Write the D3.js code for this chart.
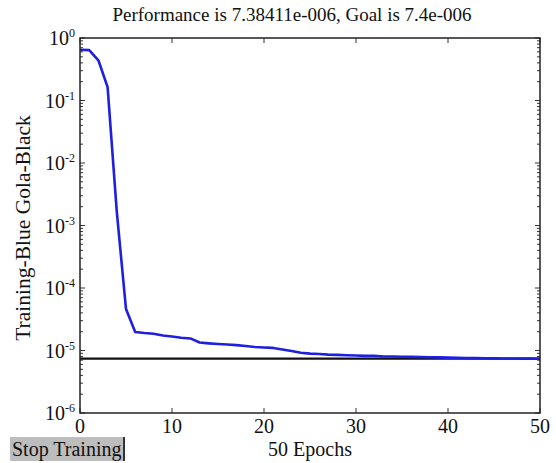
<!DOCTYPE html>
<html>
<head>
<meta charset="utf-8">
<script src="https://cdn.jsdelivr.net/npm/d3@7"></script>
<style>
  body { margin: 0; background: #fff; }
  svg text { font-family: "Times New Roman", Times, "Liberation Serif", "DejaVu Serif", "Noto Serif", serif; }
</style>
</head>
<body>
<div id="chart"></div>
<script>
// Training record (one value per epoch)
const epochs = d3.range(0, 51);
const perf = [
  0.65, 0.64, 0.44, 0.164, 1.65e-3, 4.6e-5, 1.98e-5, 1.9e-5, 1.85e-5, 1.74e-5,
  1.67e-5, 1.6e-5, 1.56e-5, 1.34e-5, 1.3e-5, 1.27e-5, 1.25e-5, 1.22e-5, 1.18e-5, 1.14e-5,
  1.12e-5, 1.1e-5, 1.04e-5, 9.8e-6, 9.2e-6, 8.9e-6, 8.8e-6, 8.6e-6, 8.5e-6, 8.4e-6,
  8.3e-6, 8.2e-6, 8.2e-6, 8.0e-6, 8.0e-6, 7.95e-6, 7.9e-6, 7.85e-6, 7.8e-6, 7.75e-6,
  7.7e-6, 7.65e-6, 7.6e-6, 7.55e-6, 7.5e-6, 7.47e-6, 7.45e-6, 7.43e-6, 7.41e-6, 7.4e-6,
  7.38411e-6
];
const goal = 7.4e-6;
const xTicks = [0, 10, 20, 30, 40, 50];
const yExponents = [0, -1, -2, -3, -4, -5, -6];

const width = 556, height = 463;
const margin = { left: 80, right: 16, top: 38, bottom: 50 };
const plotW = width - margin.left - margin.right;
const plotH = height - margin.top - margin.bottom;

const svg = d3.select("#chart").append("svg")
    .attr("width", width)
    .attr("height", height)
    .attr("fill", "#111");

const x = d3.scaleLinear().domain([0, 50]).range([margin.left, margin.left + plotW]);
const y = d3.scaleLog().domain([1e-6, 1]).range([margin.top + plotH, margin.top]);

// Minor ticks (2..9 in each decade) on left and right, inside
const minor = y.ticks().filter(v => Math.abs(Math.log10(v) - Math.round(Math.log10(v))) > 1e-6);
const tickG = svg.append("g").attr("stroke", "#333").attr("stroke-width", 1);
minor.forEach(v => {
  tickG.append("line").attr("x1", x(0)).attr("x2", x(0) + 3).attr("y1", y(v)).attr("y2", y(v));
  tickG.append("line").attr("x1", x(50)).attr("x2", x(50) - 3).attr("y1", y(v)).attr("y2", y(v));
});
yExponents.forEach(e => {
  const v = Math.pow(10, e);
  tickG.append("line").attr("x1", x(0)).attr("x2", x(0) + 5).attr("y1", y(v)).attr("y2", y(v));
  tickG.append("line").attr("x1", x(50)).attr("x2", x(50) - 5).attr("y1", y(v)).attr("y2", y(v));
});
xTicks.forEach(t => {
  tickG.append("line").attr("x1", x(t)).attr("x2", x(t)).attr("y1", y(1e-6)).attr("y2", y(1e-6) - 5);
  tickG.append("line").attr("x1", x(t)).attr("x2", x(t)).attr("y1", y(1)).attr("y2", y(1) + 5);
});

// Y tick labels: 10 with superscript exponent
const yLab = svg.append("g");
yExponents.forEach(e => {
  const t = yLab.append("text")
      .attr("x", x(0) - 5)
      .attr("y", y(Math.pow(10, e)) + 7)
      .attr("text-anchor", "end")
      .attr("font-size", 20);
  t.append("tspan").text("10");
  t.append("tspan").attr("dy", -8).attr("font-size", 12).text(e);
});

// X tick labels
svg.append("g").selectAll("text")
  .data(xTicks)
  .join("text")
    .attr("x", d => x(d))
    .attr("y", y(1e-6) + 20)
    .attr("text-anchor", "middle")
    .attr("font-size", 20)
    .text(d => d);

// Goal line
svg.append("line")
    .attr("x1", x(0)).attr("x2", x(50))
    .attr("y1", y(goal)).attr("y2", y(goal))
    .attr("stroke", "#111")
    .attr("stroke-width", 2.2);

// Training performance
const line = d3.line()
    .x((d, i) => x(epochs[i]))
    .y(d => y(d));

svg.append("path")
    .datum(perf)
    .attr("fill", "none")
    .attr("stroke", "#1f1fe0")
    .attr("stroke-width", 2.6)
    .attr("stroke-linejoin", "round")
    .attr("d", line);

// Plot frame
svg.append("rect")
    .attr("x", x(0)).attr("y", y(1))
    .attr("width", plotW).attr("height", plotH)
    .attr("fill", "none")
    .attr("stroke", "#222")
    .attr("stroke-width", 1.5);

// Title and axis labels
svg.append("text")
    .attr("x", 292)
    .attr("y", 21)
    .attr("text-anchor", "middle")
    .attr("font-size", 19)
    .text("Performance is 7.38411e-006, Goal is 7.4e-006");

svg.append("text")
    .attr("x", x(25))
    .attr("y", 456)
    .attr("text-anchor", "middle")
    .attr("font-size", 20)
    .text("50 Epochs");

svg.append("text")
    .attr("transform", `translate(30,228) rotate(-90)`)
    .attr("text-anchor", "middle")
    .attr("font-size", 21.5)
    .text("Training-Blue Gola-Black");

// Stop Training button
const btn = svg.append("g").attr("transform", "translate(10,437)");
btn.append("rect")
    .attr("width", 115).attr("height", 24)
    .attr("fill", "#bdbdbd");
btn.append("line")
    .attr("x1", 114).attr("x2", 114).attr("y1", 0).attr("y2", 24)
    .attr("stroke", "#333").attr("stroke-width", 2);
btn.append("text")
    .attr("x", 2).attr("y", 19)
    .attr("font-size", 20)
    .text("Stop Training");
</script>
</body>
</html>
